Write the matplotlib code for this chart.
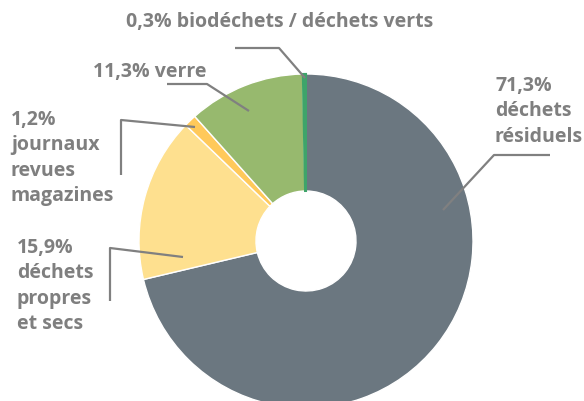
import matplotlib.pyplot as plt

W, H = 584, 401

labels = ["71,3%\ndéchets\nrésiduels",
          "15,9%\ndéchets\npropres\net secs",
          "1,2%\njournaux\nrevues\nmagazines",
          "11,3% verre",
          "0,3% biodéchets / déchets verts"]
values = [71.3, 15.9, 1.2, 11.3, 0.3]
colors = ["#6b7780", "#fee08f", "#ffc95a", "#97b96e", "#3ea46a"]
explode = [0.0, 0.03, 0.05, 0.015, 0.035]

text_col = "#7f7f7f"
line_col = "#808080"


def py(y):
    # pixel row (from top) -> data y (from bottom)
    return H - y


fig = plt.figure(figsize=(W / 100, H / 100), dpi=100)
ax = fig.add_axes([0, 0, 1, 1])

wedges, _ = ax.pie(values, colors=colors, explode=explode, startangle=90,
                   counterclock=False, center=(306, py(241)), radius=167,
                   wedgeprops=dict(width=117, edgecolor="white", linewidth=1.0))
# the thin green sliver would vanish under a white edge
wedges[-1].set_edgecolor(colors[-1])
wedges[-1].set_linewidth(1.5)

ax.set_xlim(0, W)
ax.set_ylim(0, H)
ax.set_aspect("equal")
ax.axis("off")

font = dict(family="Open Sans", weight="bold", size=14, color=text_col)

# text blocks
ax.text(495, py(76), labels[0], ha="left", va="top", linespacing=1.36, **font)
ax.text(17, py(238), labels[1], ha="left", va="top", linespacing=1.36, **font)
ax.text(11, py(110), labels[2], ha="left", va="top", linespacing=1.36, **font)
ax.text(93, py(72), labels[3], ha="left", va="center", **font)
ax.text(280, py(22), labels[4], ha="center", va="center", **font)

# leader lines
leaders = [
    [(550, 155), (494, 155), (443, 210)],
    [(110, 301), (110, 248), (183, 257)],
    [(121, 175), (121, 120), (195, 127)],
    [(167, 84), (207, 84), (249, 111)],
    [(235, 48), (279, 48), (305, 78)],
]
for pts in leaders:
    ax.plot([p[0] for p in pts], [py(p[1]) for p in pts],
            color=line_col, lw=1.6, solid_capstyle="butt")

fig.savefig("out.png", dpi=100)
